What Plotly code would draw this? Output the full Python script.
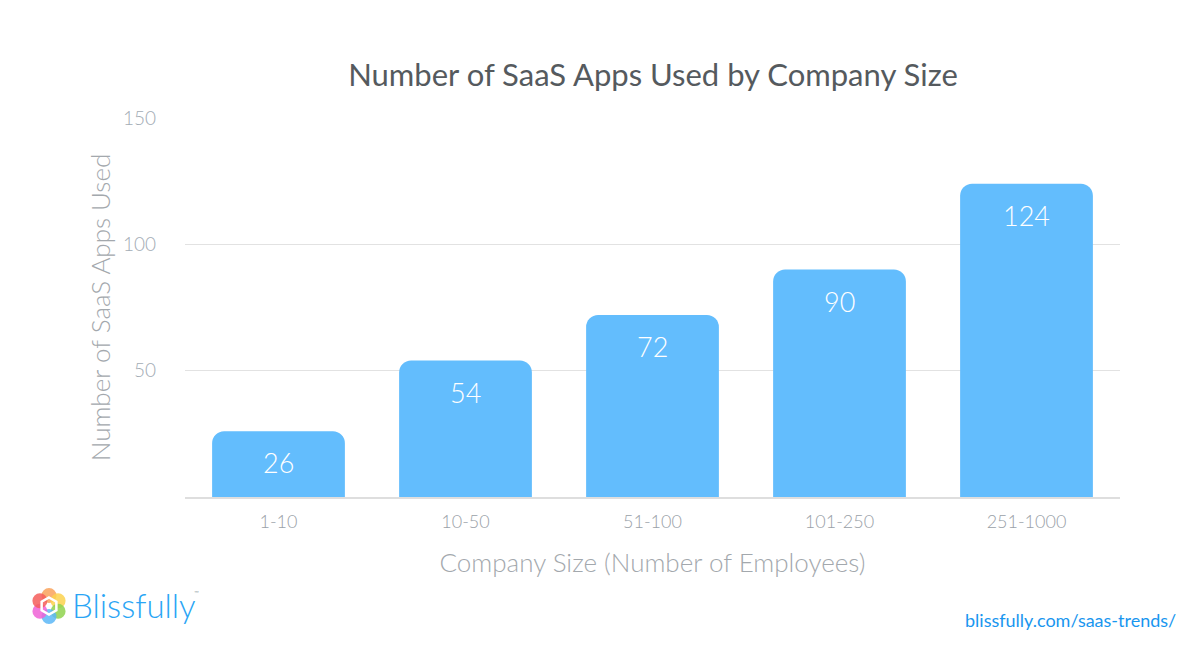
import plotly.graph_objects as go

categories = ["1-10", "10-50", "51-100", "101-250", "251-1000"]
apps_used = [26, 54, 72, 90, 124]
y_ticks = [50, 100, 150]

BAR = "#63bdfd"
FONT = "Lato, 'Open Sans', sans-serif"

L, R, T, B = 185, 80, 118, 151
W, H = 1200, 648
PW, PH = W - L - R, H - T - B

def px(x):
    return (x - L) / PW

def py(y):
    return (H - B - y) / PH

fig = go.Figure()
fig.add_trace(go.Bar(
    x=categories, y=apps_used, marker=dict(color=BAR, line=dict(width=0)),
    hoverinfo="x+y",
))

for c, v in zip(categories, apps_used):
    fig.add_annotation(x=c, y=v, text=str(v), showarrow=False, yanchor="top",
                       yshift=-13, font=dict(family=FONT, size=27, color="white", weight=300))

# logo flower
petals = [("#f9a25a", 0, -1), ("#fbd24f", 0.866, -0.5), ("#8fd24f", 0.866, 0.5),
          ("#5cb7f7", 0, 1), ("#ef62d6", -0.866, 0.5), ("#f45d5a", -0.866, -0.5)]
cx, cy, off, r = 49, 606, 10.5, 7.5
shapes = []
for col, dx, dy in petals:
    x0, y0 = cx + dx * off, cy + dy * off
    shapes.append(dict(type="circle", xref="paper", yref="paper",
                       x0=px(x0 - r), x1=px(x0 + r), y0=py(y0 + r), y1=py(y0 - r),
                       fillcolor=col, opacity=0.85, line=dict(width=0), layer="above"))
hr = 8.5
hx = [cx + hr * d for d in (0, 0.866, 0.866, 0, -0.866, -0.866)]
hy = [cy + hr * d for d in (-1, -0.5, 0.5, 1, 0.5, -0.5)]
path = "M " + " L ".join(f"{px(a)} {py(b)}" for a, b in zip(hx, hy)) + " Z"
shapes.append(dict(type="path", xref="paper", yref="paper", path=path,
                   line=dict(color="white", width=2.5), layer="above"))

fig.add_annotation(xref="paper", yref="paper", x=px(70), y=py(605), xanchor="left", yanchor="middle",
                   text="Blissfully", showarrow=False,
                   font=dict(family=FONT, size=33, color="#2aa5f5", weight=300))
fig.add_annotation(xref="paper", yref="paper", x=px(192), y=py(592), xanchor="left", yanchor="middle",
                   text="™", showarrow=False, font=dict(family=FONT, size=6, color="#9aa"))
fig.add_annotation(xref="paper", yref="paper", x=px(1178), y=py(620), xanchor="right", yanchor="middle",
                   text="blissfully.com/saas-trends/", showarrow=False,
                   font=dict(family=FONT, size=18, color="#1996ef"))

fig.update_layout(
    width=W, height=H,
    margin=dict(l=L, r=R, t=T, b=B, pad=0),
    paper_bgcolor="white", plot_bgcolor="white",
    bargap=0.29, barcornerradius=12,
    showlegend=False,
    shapes=shapes,
    title=dict(text="Number of SaaS Apps Used by Company Size", x=653 / W, xanchor="center",
               y=1 - 75 / H, yanchor="middle",
               font=dict(family=FONT, size=31, color="#555a5e", weight=400)),
    xaxis=dict(showgrid=False, showline=True, linecolor="#dedede", linewidth=1.5,
               ticks="", ticklabelstandoff=8,
               tickfont=dict(family=FONT, size=18, color="#9aa1a8", weight=300),
               title=dict(text="Company Size (Number of Employees)", standoff=22,
                          font=dict(family=FONT, size=26, color="#a3a8ad", weight=300))),
    yaxis=dict(range=[0, 150], tickvals=y_ticks, showgrid=True, gridcolor="#e2e2e2", gridwidth=1,
               zeroline=False, ticks="", ticklabelstandoff=28,
               tickfont=dict(family=FONT, size=19, color="#a3acb5", weight=300),
               title=dict(text="Number of SaaS Apps Used", standoff=4,
                          font=dict(family=FONT, size=26, color="#a3a8ad", weight=300))),
    font=dict(family=FONT),
)

fig.write_html("out.html")
